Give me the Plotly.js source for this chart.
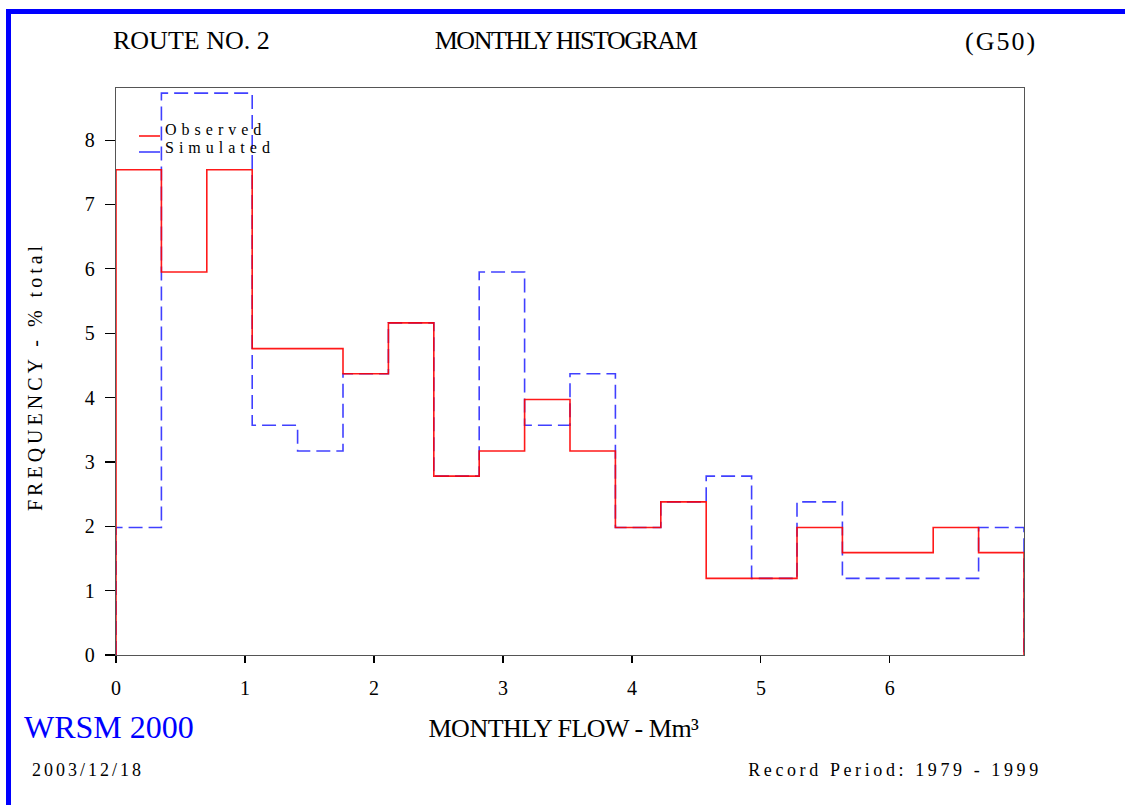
<!DOCTYPE html>
<html>
<head>
<meta charset="utf-8">
<script src="https://cdn.plot.ly/plotly-3.0.1.min.js"></script>
<style>
  html, body { margin: 0; padding: 0; background: #fff; }
  #wrap { position: relative; width: 1125px; height: 805px; }
  #chart { width: 1125px; height: 805px; }
  #frame { position: absolute; left: 6px; top: 9px; right: 0; bottom: 0;
           border-top: 5px solid #0000ff; border-left: 5px solid #0000ff;
           pointer-events: none; }
</style>
</head>
<body>
<div id="wrap">
  <div id="chart"></div>
  <div id="frame"></div>
</div>
<script>
// ---- data ----
const binWidth = 0.352;          // Mm³ per class
const binCount = 20;
const observed  = [7.54, 5.95, 7.54, 4.76, 4.76, 4.37, 5.16, 2.78, 3.17, 3.97,
                   3.17, 1.98, 2.38, 1.19, 1.19, 1.98, 1.59, 1.59, 1.98, 1.59];
const simulated = [1.98, 8.73, 8.73, 3.57, 3.17, 4.37, 5.16, 2.78, 5.95, 3.57,
                   4.37, 1.98, 2.38, 2.78, 1.19, 2.38, 1.19, 1.19, 1.19, 1.98];
const xTicks = [0, 1, 2, 3, 4, 5, 6];
const yTicks = [0, 1, 2, 3, 4, 5, 6, 7, 8];
const seriesNames = ['Observed', 'Simulated'];

// build step outline from class edges
function stepXY(vals) {
  const xs = [0], ys = [0];
  for (let i = 0; i < vals.length; i++) { xs.push(i * binWidth); ys.push(vals[i]); }
  xs.push(binCount * binWidth); ys.push(0);
  return { xs, ys };
}
const o = stepXY(observed), s = stepXY(simulated);
const xMax = binCount * binWidth;

const serif = 'Liberation Serif, Times New Roman, serif';

const traces = [
  { x: s.xs, y: s.ys, type: 'scatter', mode: 'lines', name: seriesNames[1],
    line: { shape: 'hv', color: 'rgba(0,0,255,0.75)', width: 1.6, dash: '14px,6px' },
    showlegend: false, hoverinfo: 'skip' },
  { x: o.xs, y: o.ys, type: 'scatter', mode: 'lines', name: seriesNames[0],
    line: { shape: 'hv', color: 'rgba(255,0,0,0.9)', width: 1.6 },
    showlegend: false, hoverinfo: 'skip' }
];

// pixel -> paper helpers for layout text
const L = 116, T = 88, W = 908, H = 567;
const px = v => (v - L) / W;
const py = v => (T + H - v) / H;

const annotations = [
  { text: 'ROUTE NO. 2', x: px(191), y: py(41), size: 26, ls: 0 },
  { text: 'MONTHLY HISTOGRAM', x: px(565), y: py(41), size: 26, ls: -1.5 },
  { text: '(G50)', x: px(1001), y: py(42), size: 26, ls: 2 },
  { text: 'FREQUENCY - % total', x: px(35), y: py(376), size: 20, ls: 4, angle: -90 },
  { text: 'MONTHLY FLOW - Mm³', x: px(563), y: py(728), size: 26, ls: -0.5 },
  { text: 'WRSM 2000', x: px(109), y: py(727), size: 32, ls: 0, color: '#0000ff' },
  { text: '2003/12/18', x: px(88), y: py(770), size: 18, ls: 3 },
  { text: 'Record Period: 1979 - 1999', x: px(895), y: py(770), size: 18, ls: 3.6 },
  { text: seriesNames[0], x: px(163), y: py(129), size: 16, ls: 5, anchor: 'left' },
  { text: seriesNames[1], x: px(163), y: py(147.5), size: 16, ls: 5, anchor: 'left' }
].map(a => ({
  text: a.text, x: a.x, y: a.y, xref: 'paper', yref: 'paper',
  xanchor: a.anchor || 'center', yanchor: 'middle', showarrow: false,
  textangle: a.angle || 0, align: a.anchor || 'center',
  font: { family: serif, size: a.size, color: a.color || '#000' },
  _ls: a.ls
}));
const letterSpacing = annotations.map(a => a._ls);
annotations.forEach(a => delete a._ls);

const shapes = [
  { type: 'line', xref: 'paper', yref: 'paper', x0: px(139), x1: px(160), y0: py(136), y1: py(136),
    line: { color: 'rgba(255,0,0,0.9)', width: 1.6 } },
  { type: 'line', xref: 'paper', yref: 'paper', x0: px(139), x1: px(160), y0: py(152), y1: py(152),
    line: { color: 'rgba(0,0,255,0.75)', width: 1.6 } }
];

const axisCommon = {
  showgrid: false, zeroline: false, showline: true, mirror: true,
  linecolor: '#555', linewidth: 1.3, ticks: 'outside', tickcolor: '#000',
  tickwidth: 1.2, tickfont: { family: serif, size: 20, color: '#000' },
  tickmode: 'array', fixedrange: true, layer: 'below traces'
};

const layout = {
  width: 1125, height: 805,
  margin: { l: L, r: 1125 - L - W, t: T, b: 805 - T - H },
  paper_bgcolor: '#fff', plot_bgcolor: '#fff',
  showlegend: false,
  xaxis: Object.assign({}, axisCommon, { range: [0, xMax], tickvals: xTicks,
    ticktext: xTicks.map(String), ticklen: 7, ticklabelstandoff: 8 }),
  yaxis: Object.assign({}, axisCommon, { range: [0, 8.81], tickvals: yTicks,
    ticktext: yTicks.map(String), ticklen: 10, ticklabelstandoff: 6 }),
  annotations, shapes
};

Plotly.newPlot('chart', traces, layout, { staticPlot: true, displayModeBar: false }).then(() => {
  document.querySelectorAll('#chart g.annotation').forEach(g => {
    const idx = +g.getAttribute('data-index');
    const t = g.querySelector('text');
    if (t && !isNaN(idx) && letterSpacing[idx] !== undefined) {
      t.style.letterSpacing = letterSpacing[idx] + 'px';
    }
  });
});
</script>
</body>
</html>
